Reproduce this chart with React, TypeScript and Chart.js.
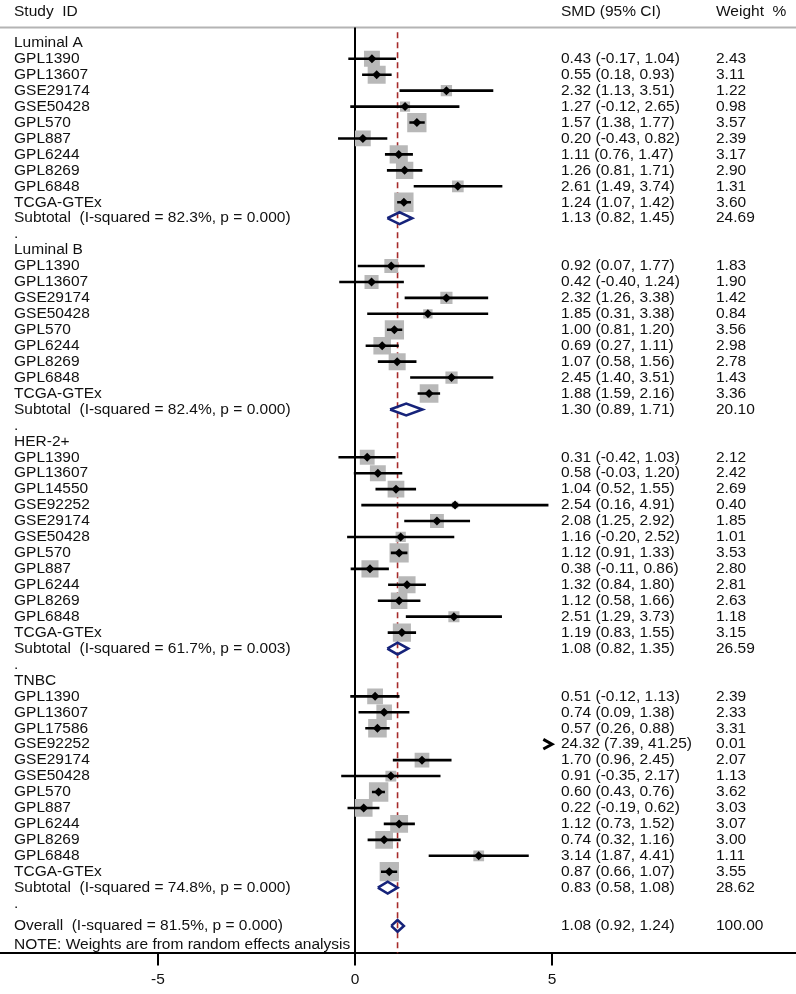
import React, { useEffect, useRef } from "react";
import { Chart, registerables } from "chart.js";

Chart.register(...registerables);

// ---------------- DATA ----------------
const groupNames = ["Luminal A", "Luminal B", "HER-2+", "TNBC"];

const lumAStudies = ["GPL1390", "GPL13607", "GSE29174", "GSE50428", "GPL570", "GPL887", "GPL6244", "GPL8269", "GPL6848", "TCGA-GTEx"];
const lumASmd = [0.43, 0.55, 2.32, 1.27, 1.57, 0.2, 1.11, 1.26, 2.61, 1.24];
const lumALower = [-0.17, 0.18, 1.13, -0.12, 1.38, -0.43, 0.76, 0.81, 1.49, 1.07];
const lumAUpper = [1.04, 0.93, 3.51, 2.65, 1.77, 0.82, 1.47, 1.71, 3.74, 1.42];
const lumAWeight = [2.43, 3.11, 1.22, 0.98, 3.57, 2.39, 3.17, 2.9, 1.31, 3.6];

const lumBStudies = ["GPL1390", "GPL13607", "GSE29174", "GSE50428", "GPL570", "GPL6244", "GPL8269", "GPL6848", "TCGA-GTEx"];
const lumBSmd = [0.92, 0.42, 2.32, 1.85, 1.0, 0.69, 1.07, 2.45, 1.88];
const lumBLower = [0.07, -0.4, 1.26, 0.31, 0.81, 0.27, 0.58, 1.4, 1.59];
const lumBUpper = [1.77, 1.24, 3.38, 3.38, 1.2, 1.11, 1.56, 3.51, 2.16];
const lumBWeight = [1.83, 1.9, 1.42, 0.84, 3.56, 2.98, 2.78, 1.43, 3.36];

const her2Studies = ["GPL1390", "GPL13607", "GPL14550", "GSE92252", "GSE29174", "GSE50428", "GPL570", "GPL887", "GPL6244", "GPL8269", "GPL6848", "TCGA-GTEx"];
const her2Smd = [0.31, 0.58, 1.04, 2.54, 2.08, 1.16, 1.12, 0.38, 1.32, 1.12, 2.51, 1.19];
const her2Lower = [-0.42, -0.03, 0.52, 0.16, 1.25, -0.2, 0.91, -0.11, 0.84, 0.58, 1.29, 0.83];
const her2Upper = [1.03, 1.2, 1.55, 4.91, 2.92, 2.52, 1.33, 0.86, 1.8, 1.66, 3.73, 1.55];
const her2Weight = [2.12, 2.42, 2.69, 0.4, 1.85, 1.01, 3.53, 2.8, 2.81, 2.63, 1.18, 3.15];

const tnbcStudies = ["GPL1390", "GPL13607", "GPL17586", "GSE92252", "GSE29174", "GSE50428", "GPL570", "GPL887", "GPL6244", "GPL8269", "GPL6848", "TCGA-GTEx"];
const tnbcSmd = [0.51, 0.74, 0.57, 24.32, 1.7, 0.91, 0.6, 0.22, 1.12, 0.74, 3.14, 0.87];
const tnbcLower = [-0.12, 0.09, 0.26, 7.39, 0.96, -0.35, 0.43, -0.19, 0.73, 0.32, 1.87, 0.66];
const tnbcUpper = [1.13, 1.38, 0.88, 41.25, 2.45, 2.17, 0.76, 0.62, 1.52, 1.16, 4.41, 1.07];
const tnbcWeight = [2.39, 2.33, 3.31, 0.01, 2.07, 1.13, 3.62, 3.03, 3.07, 3.0, 1.11, 3.55];

const subtotalI2 = [82.3, 82.4, 61.7, 74.8];
const subtotalP = ["0.000", "0.000", "0.003", "0.000"];
const subtotalSmd = [1.13, 1.3, 1.08, 0.83];
const subtotalLower = [0.82, 0.89, 0.82, 0.58];
const subtotalUpper = [1.45, 1.71, 1.35, 1.08];
const subtotalWeight = [24.69, 20.1, 26.59, 28.62];

const overallI2 = 81.5;
const overallP = "0.000";
const overallSmd = 1.08;
const overallLower = 0.92;
const overallUpper = 1.24;
const overallWeight = 100.0;

const xTickValues = [-5, 0, 5];
const noteText = "NOTE: Weights are from random effects analysis";

// ---------------- LAYOUT / STYLE ----------------
const W = 796;
const H = 994;
const zeroPx = 355;
const pxPerUnit = 39.4;
const firstRowPx = 43;
const rowPx = 16.0;
const headerPx = 12;
const headerLinePx = 27.5;
const axisPx = 957;
const extraBeforeOverall = 0.4; // in rows
const extraBeforeNote = 0.2; // in rows
const forestMax = 5.0;

const FONT = '"Liberation Sans", Arial, sans-serif';
const FONT_SIZE = 15.5;
const labelX = 14;
const smdX = 561;
const weightX = 716;

const xMin = -zeroPx / pxPerUnit;
const xMax = (W - zeroPx) / pxPerUnit;
const yMin = -firstRowPx / rowPx;
const yMax = (axisPx - firstRowPx) / rowPx;
const headerRow = (headerPx - firstRowPx) / rowPx;
const headerLineRow = (headerLinePx - firstRowPx) / rowPx;

type Row = {
  kind: "group" | "study" | "subtotal" | "blank" | "overall" | "note";
  label: string;
  pos: number;
  est?: number;
  lo?: number;
  hi?: number;
  w?: number;
};

const groupData = [
  [lumAStudies, lumASmd, lumALower, lumAUpper, lumAWeight],
  [lumBStudies, lumBSmd, lumBLower, lumBUpper, lumBWeight],
  [her2Studies, her2Smd, her2Lower, her2Upper, her2Weight],
  [tnbcStudies, tnbcSmd, tnbcLower, tnbcUpper, tnbcWeight],
] as [string[], number[], number[], number[], number[]][];

const rows: Row[] = [];
let pos = 0;
groupNames.forEach((g, gi) => {
  const [names, est, lo, hi, w] = groupData[gi];
  rows.push({ kind: "group", label: g, pos: pos++ });
  names.forEach((n, i) => rows.push({ kind: "study", label: n, pos: pos++, est: est[i], lo: lo[i], hi: hi[i], w: w[i] }));
  rows.push({
    kind: "subtotal",
    label: `Subtotal  (I-squared = ${subtotalI2[gi].toFixed(1)}%, p = ${subtotalP[gi]})`,
    pos: pos++,
    est: subtotalSmd[gi],
    lo: subtotalLower[gi],
    hi: subtotalUpper[gi],
    w: subtotalWeight[gi],
  });
  rows.push({ kind: "blank", label: ".", pos: pos++ });
});
pos += extraBeforeOverall;
rows.push({
  kind: "overall",
  label: `Overall  (I-squared = ${overallI2.toFixed(1)}%, p = ${overallP})`,
  pos: pos++,
  est: overallSmd,
  lo: overallLower,
  hi: overallUpper,
  w: overallWeight,
});
pos += extraBeforeNote;
rows.push({ kind: "note", label: noteText, pos: pos++ });

const fmt = (v: number) => v.toFixed(2);

// datasets
const pointData: any[] = [];
const squareData: any[] = [];
const squareRadius: number[] = [];
const ciData: any[] = [];
const diamondData: any[] = [];
const arrowData: any[] = [];
const gap = { x: null, y: null };

rows.forEach((r) => {
  const i = r.pos;
  if (r.kind === "study") {
    const lo = r.lo as number, hi = r.hi as number, est = r.est as number;
    if (est <= forestMax) {
      pointData.push({ x: est, y: i });
      squareData.push({ x: est, y: i });
      squareRadius.push((10.2 * Math.sqrt(r.w as number)) / 2 / Math.SQRT1_2);
    }
    const ch = Math.min(hi, forestMax);
    if (lo < ch) {
      ciData.push({ x: lo, y: i }, { x: ch, y: i }, gap);
    }
    if (lo > forestMax) {
      arrowData.push({ x: forestMax - 0.22, y: i - 0.3 }, { x: forestMax, y: i }, { x: forestMax - 0.22, y: i + 0.3 }, gap);
    }
  } else if (r.kind === "subtotal" || r.kind === "overall") {
    const h = 0.37;
    diamondData.push(
      { x: r.lo, y: i },
      { x: r.est, y: i - h },
      { x: r.hi, y: i },
      { x: r.est, y: i + h },
      { x: r.lo, y: i },
      gap
    );
  }
});

const textPlugin = {
  id: "forestText",
  beforeDatasetsDraw(chart: any) {
    const ctx = chart.ctx;
    const ys = chart.scales.y;
    const yl = ys.getPixelForValue(headerLineRow);
    ctx.save();
    ctx.strokeStyle = "#b4b4b4";
    ctx.lineWidth = 2;
    ctx.beginPath();
    ctx.moveTo(0, yl);
    ctx.lineTo(W, yl);
    ctx.stroke();
    ctx.restore();
  },
  afterDraw(chart: any) {
    const ctx = chart.ctx;
    const ys = chart.scales.y;
    ctx.save();
    ctx.fillStyle = "#111";
    ctx.font = `${FONT_SIZE}px ${FONT}`;
    ctx.textBaseline = "middle";
    ctx.textAlign = "left";
    const hy = ys.getPixelForValue(headerRow);
    ctx.fillText("Study  ID", labelX, hy);
    ctx.fillText("SMD (95% CI)", smdX, hy);
    ctx.fillText("Weight  %", weightX, hy);
    rows.forEach((r) => {
      const y = ys.getPixelForValue(r.pos);
      ctx.fillText(r.label, labelX, y);
      if (r.kind === "study" || r.kind === "subtotal" || r.kind === "overall") {
        ctx.fillText(`${fmt(r.est as number)} (${fmt(r.lo as number)}, ${fmt(r.hi as number)})`, smdX, y);
        ctx.fillText(fmt(r.w as number), weightX, y);
      }
    });
    ctx.restore();
  },
};

export default function App() {
  const ref = useRef<HTMLCanvasElement>(null);
  useEffect(() => {
    document.body.style.margin = "0";
    const refY = yMax;
    const chart = new Chart(ref.current as HTMLCanvasElement, {
      type: "scatter",
      data: {
        datasets: [
          {
            label: "estimates",
            data: pointData,
            pointStyle: "rectRot",
            pointRadius: 4.5,
            backgroundColor: "#000",
            borderColor: "#000",
            borderWidth: 0,
            order: 0,
          } as any,
          {
            label: "ci",
            data: ciData,
            showLine: true,
            borderColor: "#000",
            borderWidth: 2.6,
            pointRadius: 0,
            spanGaps: false,
            order: 1,
          } as any,
          {
            label: "arrow",
            data: arrowData,
            showLine: true,
            borderColor: "#000",
            borderWidth: 3,
            pointRadius: 0,
            spanGaps: false,
            order: 1,
          } as any,
          {
            label: "diamonds",
            data: diamondData,
            showLine: true,
            borderColor: "#16237a",
            borderWidth: 2.6,
            pointRadius: 0,
            spanGaps: false,
            order: 1,
          } as any,
          {
            label: "squares",
            data: squareData,
            pointStyle: "rect",
            pointRadius: squareRadius,
            backgroundColor: "#b8b8b8",
            borderWidth: 0,
            order: 2,
          } as any,
          {
            label: "overall line",
            data: [
              { x: overallSmd, y: headerLineRow + 0.3 },
              { x: overallSmd, y: refY },
            ],
            showLine: true,
            borderColor: "#a52a2a",
            borderWidth: 1.6,
            borderDash: [6, 4],
            pointRadius: 0,
            order: 3,
          } as any,
          {
            label: "null line",
            data: [
              { x: 0, y: headerLineRow },
              { x: 0, y: refY },
            ],
            showLine: true,
            borderColor: "#000",
            borderWidth: 2,
            pointRadius: 0,
            order: 4,
          } as any,
        ],
      },
      options: {
        responsive: false,
        maintainAspectRatio: false,
        animation: false,
        layout: { autoPadding: false, padding: { left: 0, right: 0, top: 0, bottom: 0 } },
        plugins: { legend: { display: false }, tooltip: { enabled: false } },
        scales: {
          x: {
            type: "linear",
            min: xMin,
            max: xMax,
            afterBuildTicks: (scale: any) => {
              scale.ticks = xTickValues.map((v) => ({ value: v }));
            },
            grid: { drawOnChartArea: false, drawTicks: true, tickLength: 12, color: "#000", lineWidth: 2 },
            border: { display: true, color: "#000", width: 2 },
            ticks: { color: "#111", font: { family: FONT, size: FONT_SIZE }, padding: 5, maxRotation: 0, autoSkip: false },
          },
          y: {
            type: "linear",
            display: false,
            min: yMin,
            max: yMax,
            reverse: true,
          },
        },
      } as any,
      plugins: [textPlugin],
    });
    return () => chart.destroy();
  }, []);
  return (
    <div style={{ width: W, height: H }}>
      <canvas ref={ref} width={W} height={H} style={{ display: "block" }} />
    </div>
  );
}
